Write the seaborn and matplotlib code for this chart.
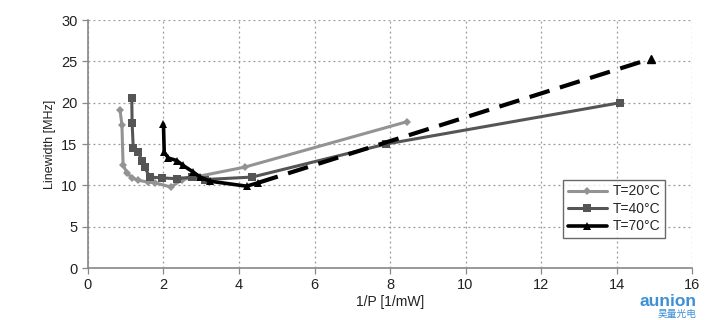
import matplotlib
matplotlib.use('Agg')
import matplotlib.pyplot as plt
import seaborn as sns
import pandas as pd

# dados
x_20 = [0.85, 0.9, 0.93, 1.03, 1.17, 1.33, 1.6, 1.77, 2.2, 2.5, 4.15, 8.45]
y_20 = [19.1, 17.3, 12.5, 11.5, 10.9, 10.6, 10.4, 10.3, 9.8, 10.7, 12.2, 17.7]

x_40 = [1.16, 1.17, 1.2, 1.33, 1.43, 1.5, 1.64, 1.96, 2.35, 2.75, 3.1, 4.35, 7.9, 14.1]
y_40 = [20.6, 17.5, 14.5, 14.0, 13.0, 12.2, 11.0, 10.9, 10.8, 11.0, 10.7, 11.0, 15.0, 20.0]

x_70 = [2.0, 2.02, 2.13, 2.35, 2.52, 2.79, 2.97, 3.23, 4.2, 4.5]
y_70 = [17.4, 14.0, 13.3, 13.0, 12.4, 11.6, 11.0, 10.5, 9.9, 10.3]
x_70_dash = [4.5, 14.9]
y_70_dash = [10.3, 25.3]

labels = ['T=20°C', 'T=40°C', 'T=70°C']

sns.set_style('white')
plt.rcParams['font.family'] = ['Liberation Sans', 'DejaVu Sans']

fig = plt.figure(figsize=(7.15, 3.2), dpi=100)
ax = fig.add_axes([0.123, 0.1625, 0.845, 0.775])

df20 = pd.DataFrame({'x': x_20, 'y': y_20})
df40 = pd.DataFrame({'x': x_40, 'y': y_40})
df70 = pd.DataFrame({'x': x_70, 'y': y_70})
df70d = pd.DataFrame({'x': x_70_dash, 'y': y_70_dash})

sns.lineplot(data=df20, x='x', y='y', sort=False, estimator=None, ax=ax,
             color='#939393', linewidth=2.2, marker='D', markersize=4,
             markeredgewidth=0, label=labels[0])
sns.lineplot(data=df40, x='x', y='y', sort=False, estimator=None, ax=ax,
             color='#555555', linewidth=2.2, marker='s', markersize=5.5,
             markeredgewidth=0, label=labels[1])
sns.lineplot(data=df70, x='x', y='y', sort=False, estimator=None, ax=ax,
             color='#000000', linewidth=2.6, marker='^', markersize=6,
             markeredgewidth=0, label=labels[2])
sns.lineplot(data=df70d, x='x', y='y', sort=False, estimator=None, ax=ax,
             color='#000000', linewidth=3)
ax.lines[-1].set_dashes([5, 2.6])
ax.plot(x_70_dash[-1:], y_70_dash[-1:], marker='^', color='black', markersize=6, linestyle='none')

ax.set_xlim(0, 16)
ax.set_ylim(0, 30)
ax.set_xticks(range(0, 17, 2))
ax.set_yticks(range(0, 31, 5))
ax.grid(True, color='#999999', linestyle=(0, (1.5, 2.5)), linewidth=0.9)
ax.tick_params(axis='both', labelsize=10.5, colors='#222222', length=4, width=0.9,
               direction='out', color='#888888')
ax.tick_params(left=True, bottom=True)
for s in ['top', 'right']:
    ax.spines[s].set_visible(False)
for s in ['left', 'bottom']:
    ax.spines[s].set_color('#888888')
    ax.spines[s].set_linewidth(1.2)

ax.set_xlabel('1/P [1/mW]', fontsize=10, color='#222222', labelpad=2)
ax.set_ylabel('Linewidth [MHz]', fontsize=9, color='#222222', labelpad=4)

leg = ax.legend(loc='lower right', bbox_to_anchor=(0.955, 0.12), fontsize=10,
                frameon=True, fancybox=False, handlelength=2.8, borderpad=0.35,
                labelspacing=0.25, handletextpad=0.4, borderaxespad=0)
leg.get_frame().set_edgecolor('#444444')
leg.get_frame().set_linewidth(1.0)

# marca d'agua
fig.text(0.895, 0.082, 'aunion', fontsize=12.5, color='#3d8fd6', fontweight='bold',
         ha='left', va='top')
fig.text(0.92, 0.003, '昊量光电', fontsize=7, color='#3d8fd6',
         family=['Noto Sans CJK SC', 'DejaVu Sans'], ha='left', va='bottom')

fig.savefig('out.png', dpi=100)
